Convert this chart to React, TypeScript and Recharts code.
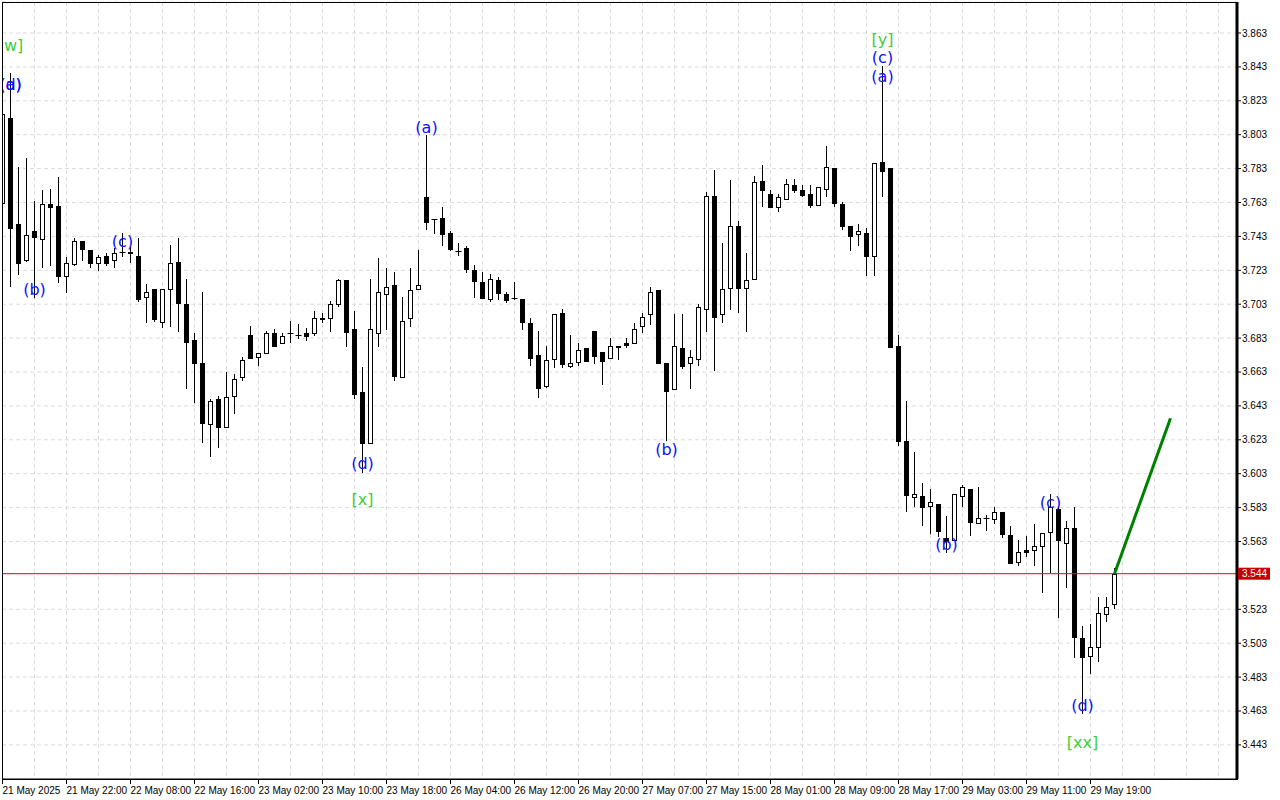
import React from 'react';
import { ComposedChart, Bar, Line, Scatter, XAxis, YAxis, CartesianGrid, ReferenceLine } from 'recharts';

// ---- Data (hourly candles) ----
const OPEN = [
  3.7629, 3.8127, 3.7503, 3.7291, 3.7462, 3.7416, 3.7621, 3.7609, 3.7198, 3.7265,
  3.7403, 3.7350, 3.7271, 3.7315, 3.7291, 3.7336, 3.7336, 3.7315, 3.7071, 3.7120,
  3.6927, 3.7118, 3.7277, 3.7031, 3.6819, 3.6681, 3.6321, 3.6469, 3.6307, 3.6488,
  3.6599, 3.6848, 3.6717, 3.6740, 3.6858, 3.6799, 3.6858, 3.6847, 3.6858, 3.6858,
  3.6947, 3.6947, 3.7029, 3.7173, 3.6884, 3.6510, 3.6209, 3.6858, 3.7088, 3.7143,
  3.6599, 3.6947, 3.7118, 3.7661, 3.7534, 3.7537, 3.7448, 3.7346, 3.7360, 3.7230,
  3.7159, 3.7059, 3.7171, 3.7088, 3.7068, 3.7059, 3.6917, 3.6730, 3.6549, 3.6708,
  3.6976, 3.6667, 3.6687, 3.6770, 3.6872, 3.6746, 3.6711, 3.6785, 3.6799, 3.6799,
  3.6901, 3.6970, 3.7112, 3.6681, 3.6528, 3.6770, 3.6681, 3.6708, 3.7000, 3.7667,
  3.6970, 3.7127, 3.7490, 3.7127, 3.7177, 3.7759, 3.7678, 3.7605, 3.7649, 3.7733,
  3.7704, 3.7678, 3.7618, 3.7708, 3.7836, 3.7621, 3.7489, 3.7446, 3.7449, 3.7316,
  3.7868, 3.7836, 3.6783, 3.6221, 3.5894, 3.5898, 3.5837, 3.5851, 3.5651, 3.5641,
  3.5898, 3.5940, 3.5740, 3.5767, 3.5763, 3.5805, 3.5668, 3.5507, 3.5580, 3.5580,
  3.5603, 3.5688, 3.5822, 3.5619, 3.5708, 3.5059, 3.4956, 3.5009, 3.5202, 3.5261,
];
const HIGH = [
  3.8176, 3.8392, 3.7841, 3.7894, 3.7639, 3.7704, 3.7710, 3.7782, 3.7310, 3.7419,
  3.7403, 3.7350, 3.7320, 3.7334, 3.7360, 3.7448, 3.7369, 3.7419, 3.7147, 3.7120,
  3.7120, 3.7379, 3.7419, 3.7177, 3.6858, 3.7104, 3.6471, 3.6488, 3.6632, 3.6618,
  3.6720, 3.6901, 3.6740, 3.6872, 3.6882, 3.6858, 3.6931, 3.6913, 3.6888, 3.6990,
  3.6976, 3.7049, 3.7179, 3.7173, 3.6990, 3.6661, 3.7179, 3.7301, 3.7242, 3.7218,
  3.7074, 3.7242, 3.7350, 3.8028, 3.7534, 3.7602, 3.7462, 3.7389, 3.7373, 3.7261,
  3.7218, 3.7208, 3.7189, 3.7100, 3.7159, 3.7059, 3.6947, 3.6872, 3.6783, 3.6970,
  3.7000, 3.6848, 3.6799, 3.6770, 3.6872, 3.6746, 3.6829, 3.6785, 3.6829, 3.6917,
  3.6976, 3.7130, 3.7112, 3.6681, 3.6970, 3.6970, 3.6760, 3.7031, 3.7690, 3.7822,
  3.7389, 3.7763, 3.7521, 3.7330, 3.7788, 3.7851, 3.7704, 3.7678, 3.7767, 3.7767,
  3.7733, 3.7733, 3.7721, 3.7963, 3.7836, 3.7633, 3.7489, 3.7506, 3.7478, 3.7864,
  3.8433, 3.7836, 3.6846, 3.6459, 3.6158, 3.5978, 3.5940, 3.5851, 3.5778, 3.5909,
  3.5961, 3.5940, 3.5953, 3.5789, 3.5835, 3.5805, 3.5721, 3.5639, 3.5662, 3.5733,
  3.5678, 3.5910, 3.5832, 3.5751, 3.5832, 3.5132, 3.5143, 3.5304, 3.5304, 3.5475,
];
const LOW = [
  3.7609, 3.7133, 3.7202, 3.7279, 3.7065, 3.7242, 3.7255, 3.7153, 3.7098, 3.7255,
  3.7287, 3.7242, 3.7228, 3.7257, 3.7242, 3.7307, 3.7275, 3.7045, 3.6917, 3.6927,
  3.6888, 3.6897, 3.6868, 3.6528, 3.6449, 3.6209, 3.6127, 3.6180, 3.6307, 3.6380,
  3.6579, 3.6705, 3.6667, 3.6740, 3.6785, 3.6799, 3.6799, 3.6823, 3.6815, 3.6844,
  3.6917, 3.6868, 3.7012, 3.6779, 3.6469, 3.6036, 3.6209, 3.6779, 3.6878, 3.6579,
  3.6599, 3.6897, 3.7118, 3.7468, 3.7444, 3.7375, 3.7346, 3.7314, 3.7216, 3.7068,
  3.7068, 3.7045, 3.7055, 3.7039, 3.7055, 3.6878, 3.6665, 3.6478, 3.6537, 3.6655,
  3.6655, 3.6655, 3.6667, 3.6697, 3.6677, 3.6553, 3.6711, 3.6701, 3.6770, 3.6799,
  3.6858, 3.6907, 3.6681, 3.6225, 3.6528, 3.6648, 3.6528, 3.6667, 3.6868, 3.6638,
  3.6917, 3.6996, 3.6976, 3.6868, 3.7177, 3.7605, 3.7599, 3.7576, 3.7649, 3.7688,
  3.7664, 3.7599, 3.7618, 3.7664, 3.7605, 3.7470, 3.7346, 3.7375, 3.7196, 3.7196,
  3.7664, 3.6772, 3.6193, 3.5804, 3.5831, 3.5719, 3.5677, 3.5657, 3.5561, 3.5631,
  3.5831, 3.5662, 3.5740, 3.5690, 3.5736, 3.5648, 3.5497, 3.5487, 3.5537, 3.5487,
  3.5328, 3.5446, 3.5177, 3.5357, 3.4941, 3.4611, 3.4847, 3.4917, 3.5157, 3.5230,
];
const CLOSE = [
  3.8150, 3.7478, 3.7271, 3.7438, 3.7428, 3.7621, 3.7602, 3.7196, 3.7271, 3.7403,
  3.7357, 3.7275, 3.7307, 3.7275, 3.7330, 3.7336, 3.7332, 3.7059, 3.7100, 3.6941,
  3.7120, 3.7271, 3.7039, 3.6809, 3.6685, 3.6327, 3.6459, 3.6307, 3.6481, 3.6587,
  3.6701, 3.6714, 3.6740, 3.6858, 3.6785, 3.6844, 3.6858, 3.6847, 3.6844, 3.6947,
  3.6941, 3.7031, 3.7173, 3.6868, 3.6498, 3.6209, 3.6882, 3.7100, 3.7130, 3.6608,
  3.6931, 3.7112, 3.7142, 3.7517, 3.7534, 3.7444, 3.7357, 3.7346, 3.7238, 3.7169,
  3.7068, 3.7177, 3.7098, 3.7055, 3.7068, 3.6927, 3.6714, 3.6537, 3.6699, 3.6970,
  3.6677, 3.6681, 3.6760, 3.6697, 3.6724, 3.6697, 3.6785, 3.6779, 3.6787, 3.6882,
  3.6956, 3.7100, 3.6685, 3.6520, 3.6782, 3.6667, 3.6717, 3.7012, 3.7667, 3.6956,
  3.7118, 3.7490, 3.7127, 3.7171, 3.7749, 3.7704, 3.7605, 3.7661, 3.7739, 3.7704,
  3.7674, 3.7617, 3.7721, 3.7839, 3.7628, 3.7489, 3.7432, 3.7460, 3.7316, 3.7864,
  3.7818, 3.6775, 3.6221, 3.5904, 3.5910, 3.5835, 3.5863, 3.5690, 3.5631, 3.5909,
  3.5953, 3.5746, 3.5767, 3.5767, 3.5805, 3.5677, 3.5505, 3.5566, 3.5566, 3.5603,
  3.5678, 3.5832, 3.5639, 3.5708, 3.5068, 3.4947, 3.5009, 3.5206, 3.5245, 3.5440,
];

const TIME_LABELS = [
  '21 May 2025', '21 May 22:00', '22 May 08:00', '22 May 16:00', '23 May 02:00', '23 May 10:00',
  '23 May 18:00', '26 May 04:00', '26 May 12:00', '26 May 20:00', '27 May 07:00', '27 May 15:00',
  '28 May 01:00', '28 May 09:00', '28 May 17:00', '29 May 03:00', '29 May 11:00', '29 May 19:00',
];
const BARS_PER_LABEL = 8;
const BARS_PER_GRID = 4;
const TOTAL_SLOTS = 154;
const X_DOMAIN = [-0.0625, 154.3125];
const Y_DOMAIN = [3.42288, 3.88129];

const CURRENT_PRICE = 3.544;
const Y_TICKS = [
  3.443, 3.463, 3.483, 3.503, 3.523, 3.544, 3.563, 3.583, 3.603, 3.623, 3.643,
  3.663, 3.683, 3.703, 3.723, 3.743, 3.763, 3.783, 3.803, 3.823, 3.843, 3.863,
];

// projection (green line)
const PROJ_BAR = [139, 146];
const PROJ_PRICE = [3.544, 3.6357];

// Elliott wave labels
const WAVE_TEXT = ['[w]', '(d)', '(a)', '(b)', '(c)', '(d)', '[x]', '(a)', '(b)', '[y]', '(c)', '(a)', '(b)', '(c)', '(d)', '[xx]'];
const WAVE_BAR = [1, 1, 1, 4, 15, 45, 45, 53, 83, 110, 110, 110, 118, 131, 135, 135];
const WAVE_PRICE = [3.8556, 3.8329, 3.8329, 3.7114, 3.7397, 3.6093, 3.5875, 3.8075, 3.6173, 3.8592, 3.8483, 3.8373, 3.5612, 3.5860, 3.4662, 3.4447];
const WAVE_MAJOR = [true, false, false, false, false, false, true, false, false, true, false, false, false, false, false, true];

const candles = OPEN.map((o, i) => ({ i, o, h: HIGH[i], l: LOW[i], c: CLOSE[i] }));
const projData = PROJ_BAR.map((b, k) => ({ i: b, v: PROJ_PRICE[k] }));
const waveData = WAVE_TEXT.map((t, k) => ({ i: WAVE_BAR[k], price: WAVE_PRICE[k], text: t, major: WAVE_MAJOR[k] }));
const xTicks = TIME_LABELS.map((_, k) => k * BARS_PER_LABEL);
const gridBars: number[] = [];
for (let b = 0; b <= TOTAL_SLOTS; b += BARS_PER_GRID) gridBars.push(b);

const FONT = '"Liberation Sans", Arial, sans-serif';

const verticalGrid = (props: any) => {
  const off = props?.offset;
  if (!off) return [];
  const span = X_DOMAIN[1] - X_DOMAIN[0];
  return gridBars.map((b) => Math.floor(off.left + ((b - X_DOMAIN[0]) / span) * off.width) + 0.5);
};

const Candle = (props: any) => {
  const { x, y, width, height, payload } = props;
  if (!payload || x == null || y == null) return null;
  const { o, h, l, c } = payload;
  const top = Math.min(y, y + height);
  const bot = Math.max(y, y + height);
  const ppu = h !== l ? (bot - top) / (h - l) : 0;
  const py = (v: number) => top + (h - v) * ppu;
  const cx = Math.floor(x + width / 2) + 0.5;
  const yo = py(o);
  const yc = py(c);
  const bt = Math.round(Math.min(yo, yc)) + 0.5;
  const bb = Math.round(Math.max(yo, yc)) + 0.5;
  const bull = c > o;
  return (
    <g>
      <line x1={cx} x2={cx} y1={Math.round(top)} y2={Math.round(bot)} stroke="#000" strokeWidth={1} />
      {bb - bt < 1 ? (
        <line x1={cx - 3} x2={cx + 3} y1={bt} y2={bt} stroke="#000" strokeWidth={1} />
      ) : (
        <rect x={cx - 2} y={bt} width={4} height={bb - bt} fill={bull ? '#fff' : '#000'} stroke="#000" strokeWidth={1} />
      )}
    </g>
  );
};

const WaveLabel = (props: any) => {
  const { cx, cy, payload } = props;
  if (cx == null || cy == null || !payload) return null;
  return (
    <text x={cx} y={cy} dy={5.5} textAnchor="middle" fontSize={16} fontFamily='"DejaVu Sans", sans-serif'
      fill={payload.major ? '#3ccf3c' : '#1010ff'}>
      {payload.text}
    </text>
  );
};

const XTick = (props: any) => {
  const { x, y, payload } = props;
  const label = TIME_LABELS[Math.round(payload.value / BARS_PER_LABEL)];
  return (
    <text x={x} y={y} dy={8} textAnchor="start" fontSize={10} fontFamily={FONT} fill="#000">
      {label}
    </text>
  );
};

const YTick = (props: any) => {
  const { x, y, payload } = props;
  const v = payload.value as number;
  if (Math.abs(v - CURRENT_PRICE) < 1e-9) {
    return (
      <g>
        <rect x={x - 4} y={y - 6} width={32} height={12} fill="#c40000" />
        <text x={x} y={y} dy={3.5} textAnchor="start" fontSize={10} fontFamily={FONT} fill="#fff">
          {v.toFixed(3)}
        </text>
      </g>
    );
  }
  return (
    <text x={x} y={y} dy={3.5} textAnchor="start" fontSize={10} fontFamily={FONT} fill="#000">
      {v.toFixed(3)}
    </text>
  );
};

export default function App() {
  return (
    <div style={{ position: 'absolute', left: 0, top: 0, width: 1280, height: 800, background: '#fff' }}>
      <ComposedChart width={1280} height={800} data={candles} margin={{ top: 2, left: 2, right: 0, bottom: 0 }}>
        <CartesianGrid
          vertical
          horizontal
          stroke="#dcdcdc"
          strokeDasharray="4 3"
          verticalCoordinatesGenerator={verticalGrid}
        />
        <XAxis
          type="number"
          dataKey="i"
          domain={X_DOMAIN}
          allowDataOverflow
          ticks={xTicks}
          interval={0}
          tick={<XTick />}
          tickSize={5}
          tickMargin={2}
          tickLine={{ stroke: '#000' }}
          axisLine={{ stroke: '#000' }}
          height={21}
        />
        <YAxis
          orientation="right"
          type="number"
          domain={Y_DOMAIN}
          allowDataOverflow
          ticks={Y_TICKS}
          interval={0}
          tick={<YTick />}
          tickSize={4}
          tickMargin={1}
          tickLine={{ stroke: '#000' }}
          axisLine={{ stroke: '#000', strokeWidth: 3 }}
          width={43}
        />
        <ReferenceLine y={CURRENT_PRICE} stroke="#ff0000" strokeWidth={1} />
        <Bar dataKey={(d: any) => [d.l, d.h]} barSize={5} shape={(p: any) => <Candle {...p} />} isAnimationActive={false} />
        <Line data={projData} dataKey="v" stroke="#008000" strokeWidth={3} dot={false} isAnimationActive={false} />
        <Scatter data={waveData} dataKey="price" shape={(p: any) => <WaveLabel {...p} />} isAnimationActive={false} />
      </ComposedChart>
      <div
        style={{
          position: 'absolute', left: 2, top: 2, width: 1236, height: 778,
          border: '1px solid #000', boxSizing: 'border-box', pointerEvents: 'none',
        }}
      />
    </div>
  );
}
